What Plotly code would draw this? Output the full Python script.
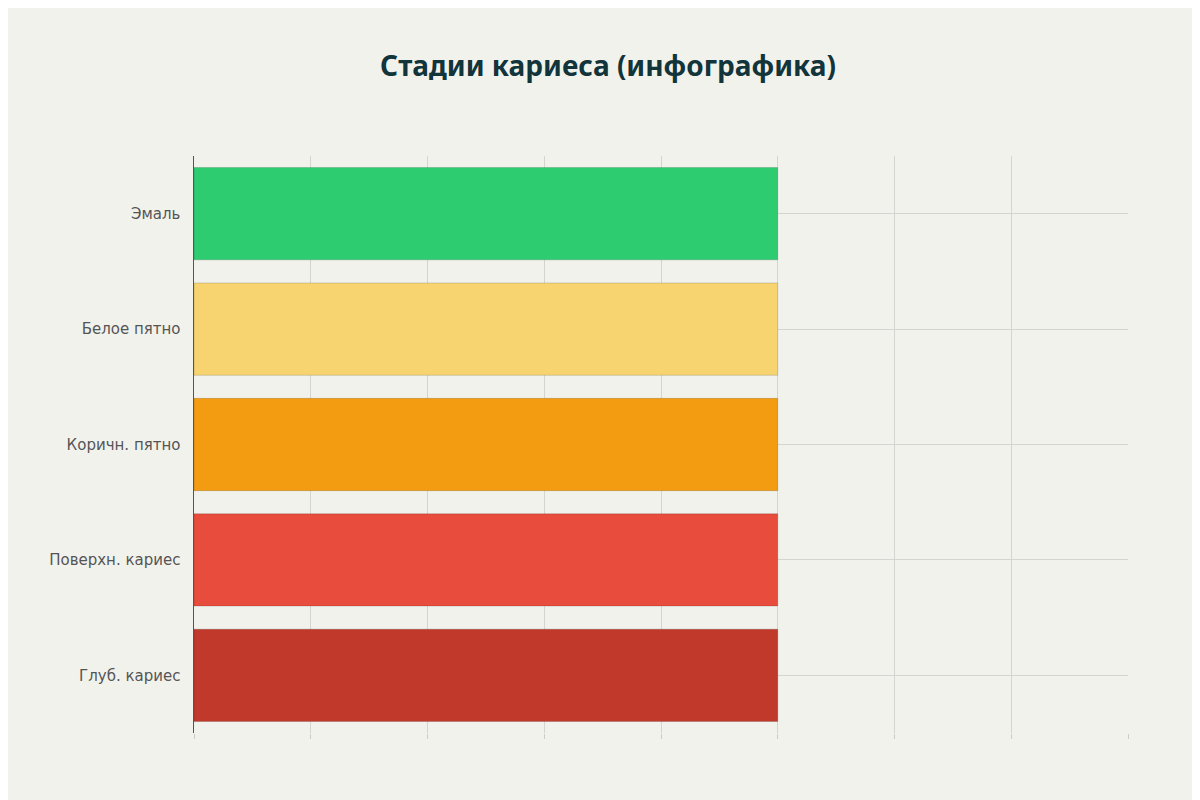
import plotly.graph_objects as go

stages = ["Эмаль", "Белое пятно", "Коричн. пятно", "Поверхн. кариес", "Глуб. кариес"]
values = [5, 5, 5, 5, 5]
colors = ["#2ecc71", "#f7d470", "#f39c12", "#e74c3c", "#c0392b"]

fig = go.Figure(go.Bar(
    y=stages, x=values, orientation="h", marker_color=colors,
    marker_line=dict(color="rgba(0,0,0,0.15)", width=1), width=0.8,
    hoverinfo="skip"))
fig.update_layout(
    width=1200, height=800,
    paper_bgcolor="#f2f2ed", plot_bgcolor="#f2f2ed",
    title=dict(text="<b>Стадии кариеса (инфографика)</b>", x=0.5, y=0.94,
               font=dict(family="Noto Sans", size=28, color="#12343b")),
    margin=dict(l=186, r=80, t=148, b=75),
    font=dict(family="DejaVu Sans", size=15, color="#555"),
    showlegend=False, bargap=0.2,
    xaxis=dict(range=[0, 8], dtick=1, showticklabels=False, ticks="outside",
               ticklen=5, tickcolor="#ccc", showgrid=True, gridcolor="#d4d4d0",
               zeroline=False, showline=False),
    yaxis=dict(autorange="reversed", showline=True, linecolor="#555", linewidth=1,
               showgrid=True, gridcolor="#d4d4d0", ticks="", ticksuffix="  "),
)
fig.write_html("out.html")
